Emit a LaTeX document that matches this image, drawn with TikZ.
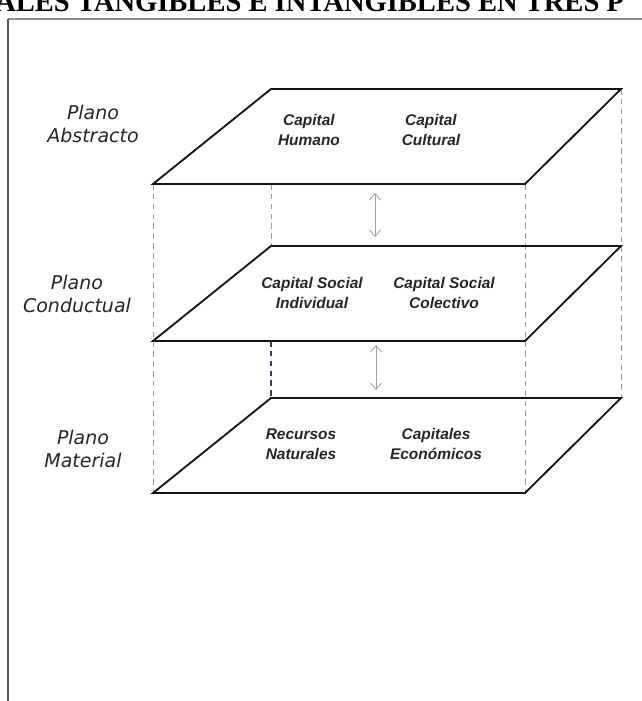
\documentclass[tikz,border=0pt]{standalone}
\usepackage{fontspec}
\usepackage{tikz}
\usetikzlibrary{positioning,arrows.meta}
\newfontfamily\planofont{DejaVu Sans}
\newfontfamily\capfont{Liberation Sans}
\newfontfamily\titlefont{Liberation Serif}
\definecolor{plink}{HTML}{141414}
\definecolor{pldash}{HTML}{9C9C90}
\definecolor{pldark}{HTML}{3A3F55}
\definecolor{plarrow}{HTML}{A49CAA}
\definecolor{plframe}{HTML}{8C8C8C}
\definecolor{plside}{HTML}{4E5C5C}
\tikzset{
  planeedge/.style={draw=plink,line width=1.3pt,line join=miter},
  hidden/.style={draw=pldash,line width=0.6pt,dash pattern=on 4pt off 3pt},
  hiddendark/.style={hidden,draw=pldark,line width=1pt},
  planolbl/.style={font=\planofont\itshape\fontsize{13.5}{16.4}\selectfont,align=center,text=black!85},
  capital/.style={font=\capfont\bfseries\itshape\fontsize{11}{14}\selectfont,align=center,text=black!85},
  flow/.style={{Straight Barb[length=1.6mm,width=2.8mm]}-{Straight Barb[length=1.6mm,width=2.8mm]},draw=plarrow,line width=0.6pt},
  frametop/.style={draw=plframe,line width=1.5pt},
  frameside/.style={draw=plside,line width=1.1pt},
}

\begin{document}
\begin{tikzpicture}[x=0.025cm,y=-0.025cm]
  \useasboundingbox (0,0) rectangle (642,701);
  % title, cut by the page
  \begin{scope}
    \clip (0,0) rectangle (642,19);
    \node[anchor=base west,inner sep=0pt,font=\titlefont\bfseries\fontsize{20.3}{24}\selectfont] (titulo) at (-5,12) {ALES TANGIBLES E INTANGIBLES EN TRES P};
  \end{scope}
  \coordinate (f0) at (8,19);\coordinate (f1) at (642,19);\coordinate (f2) at (8,701);
  \draw[frametop] (f0)--(f1);\draw[frameside] (f0)--(f2);

  % the three planes
  \foreach \n/\y in {abs/89,con/246,mat/398}{
    \coordinate (\n-bl) at (271,\y);
    \coordinate (\n-br) at (621,\y);
    \coordinate (\n-fr) at (525,\y+95);
    \coordinate (\n-fl) at (153,\y+95);
  }

  % hidden edges
  \draw[hidden] (abs-fl)--(mat-fl);
  \draw[hidden] (con-bl |- abs-fl)--(con-bl);
  \draw[hiddendark] (con-bl |- con-fl)--(mat-bl);
  \draw[hidden] (abs-fr)--(mat-fr);
  \draw[hidden] (abs-br)--(mat-br);

  \foreach \n in {abs,con,mat}
    \draw[planeedge] (\n-bl)--(\n-br)--(\n-fr)--(\n-fl)--cycle;

  \coordinate (a1) at (375,193);\coordinate (a2) at (375,237);
  \coordinate (b1) at (376,345);\coordinate (b2) at (376,390);
  \draw[flow] (a1)--(a2);
  \draw[flow] (b1)--(b2);

  \node[planolbl] (pabs) at (93,124) {Plano\\Abstracto};
  \node[planolbl] (pcon) at (77,294) {Plano\\Conductual};
  \node[planolbl] (pmat) at (83,449) {Plano\\Material};

  \node[capital] (hum) at (309,130) {Capital\\Humano};
  \node[capital] (cul) at (431,130) {Capital\\Cultural};
  \node[capital] (ind) at (312,293) {Capital Social\\Individual};
  \node[capital] (col) at (444,293) {Capital Social\\Colectivo};
  \node[capital] (nat) at (301,444) {Recursos\\Naturales};
  \node[capital] (eco) at (436,444) {Capitales\\Económicos};
\end{tikzpicture}
\end{document}
